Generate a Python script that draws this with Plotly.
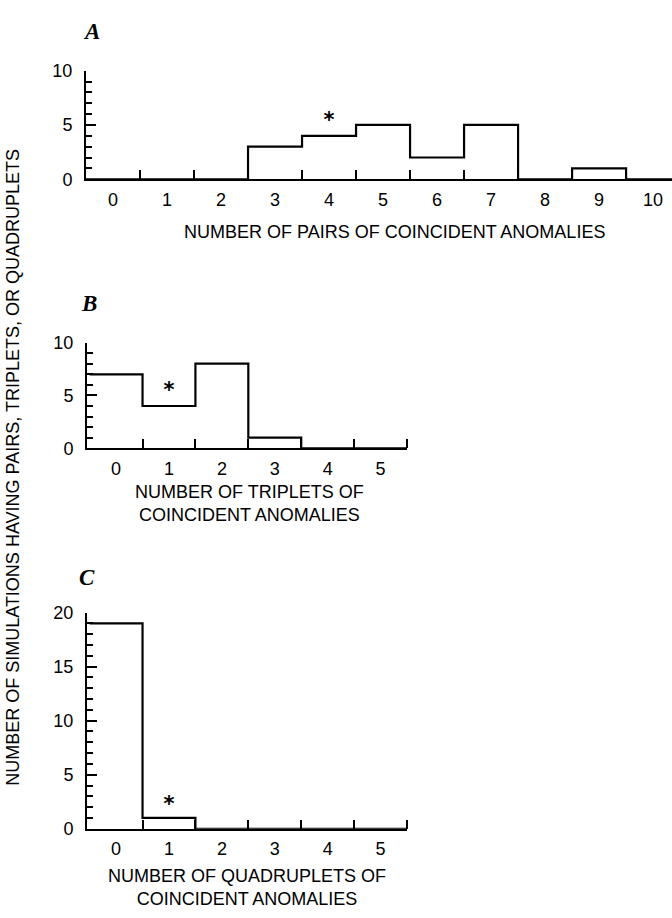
import plotly.graph_objects as go

# ---------------- data ----------------
pairs_bins = [0, 1, 2, 3, 4, 5, 6, 7, 8, 9, 10]
pairs_counts = [0, 0, 0, 3, 4, 5, 2, 5, 0, 1, 0]
pairs_star = (4, 5.3)

triplets_bins = [0, 1, 2, 3, 4, 5]
triplets_counts = [7, 4, 8, 1, 0, 0]
triplets_star = (1, 5.3)

quad_bins = [0, 1, 2, 3, 4, 5]
quad_counts = [19, 1, 0, 0, 0, 0]
quad_star = (1, 2.1)

title_a = "NUMBER OF PAIRS OF COINCIDENT ANOMALIES"
title_b = "NUMBER OF TRIPLETS OF<br>COINCIDENT ANOMALIES"
title_c = "NUMBER OF QUADRUPLETS OF<br>COINCIDENT ANOMALIES"
y_title = "NUMBER OF SIMULATIONS HAVING PAIRS, TRIPLETS, OR QUADRUPLETS"

W, H = 672, 918
FONT = "Liberation Sans, Arial, sans-serif"


def fx(px):
    return px / W


def fy(py):
    return 1 - py / H


def step_xy(bins, counts):
    xs = [b - 0.5 for b in bins] + [bins[-1] + 0.5]
    ys = list(counts) + [0]
    return xs, ys


fig = go.Figure()

panels = [
    ("x", "y", pairs_bins, pairs_counts, pairs_star),
    ("x2", "y2", triplets_bins, triplets_counts, triplets_star),
    ("x3", "y3", quad_bins, quad_counts, quad_star),
]
for xa, ya, bins, counts, star in panels:
    xs, ys = step_xy(bins, counts)
    fig.add_trace(go.Scatter(x=xs, y=ys, mode="lines", line=dict(color="black", width=2.2, shape="hv"),
                             xaxis=xa, yaxis=ya, showlegend=False, hoverinfo="skip", cliponaxis=False))
    fig.add_trace(go.Scatter(x=[star[0]], y=[star[1]], mode="text", text=["<b>*</b>"],
                             textfont=dict(family="DejaVu Sans", size=21, color="black"),
                             textposition="middle center", xaxis=xa, yaxis=ya,
                             showlegend=False, hoverinfo="skip", cliponaxis=False))


def xaxis_cfg(dom, rng, bins):
    edges = [b + 0.5 for b in bins]
    return dict(domain=dom, range=rng, showline=True, linewidth=2, linecolor="black",
                showgrid=False, zeroline=False, tickmode="array", tickvals=bins,
                ticktext=[str(b) for b in bins], ticks="", ticklabelstandoff=3,
                tickfont=dict(family=FONT, size=18, color="black"),
                minor=dict(tickmode="array", tickvals=edges, ticks="inside", ticklen=9,
                           tickwidth=2, tickcolor="black", showgrid=False),
                fixedrange=True)


def yaxis_cfg(dom, rng, anchor):
    return dict(domain=dom, range=rng, anchor=anchor, showline=True, linewidth=2, linecolor="black",
                showgrid=False, zeroline=False, tickmode="linear", tick0=0, dtick=5,
                ticks="inside", ticklen=10, tickwidth=2, tickcolor="black", ticklabelstandoff=8,
                tickfont=dict(family=FONT, size=18, color="black"),
                minor=dict(dtick=1, tick0=0, ticks="inside", ticklen=6, tickwidth=1.5,
                           tickcolor="black", showgrid=False),
                fixedrange=True)


fig.update_layout(
    width=W, height=H, margin=dict(l=0, r=0, t=0, b=0),
    paper_bgcolor="white", plot_bgcolor="rgba(0,0,0,0)",
    xaxis=dict(xaxis_cfg([fx(86), 1.0], [-0.5, 10.35], pairs_bins), anchor="y"),
    yaxis=yaxis_cfg([fy(173), fy(62)], [0, 10], "x"),
    xaxis2=dict(xaxis_cfg([fx(87), fx(407)], [-0.55, 5.5], triplets_bins), anchor="y2"),
    yaxis2=yaxis_cfg([fy(448), fy(340)], [0, 10], "x2"),
    xaxis3=dict(xaxis_cfg([fx(87), fx(407)], [-0.55, 5.5], quad_bins), anchor="y3"),
    yaxis3=yaxis_cfg([fy(837), fy(616)], [0, 20], "x3"),
)

ann = []
for letter, px, py in [("A", 91, 22), ("B", 89, 300), ("C", 87, 580)]:
    ann.append(dict(text=f"<b><i>{letter}</i></b>", x=fx(px), y=fy(py), xref="paper", yref="paper",
                    showarrow=False, xanchor="center", yanchor="middle",
                    font=dict(family="Liberation Serif, Times New Roman, serif", size=23, color="black")))
for txt, px, py in [(title_a, 394, 227), (title_b, 249, 504), (title_c, 247, 897)]:
    ann.append(dict(text=txt, x=fx(px), y=fy(py), xref="paper", yref="paper", showarrow=False,
                    xanchor="center", yanchor="middle", align="center",
                    font=dict(family=FONT, size=18, color="black")))
ann.append(dict(text=y_title, x=fx(13), y=fy(468), xref="paper", yref="paper", showarrow=False,
                textangle=-90, xanchor="center", yanchor="middle",
                font=dict(family=FONT, size=18, color="black")))
fig.update_layout(annotations=ann)

fig.write_html("out.html", config={"displayModeBar": False},
               post_script="document.body.style.margin='0px';document.body.style.overflow='hidden';")
